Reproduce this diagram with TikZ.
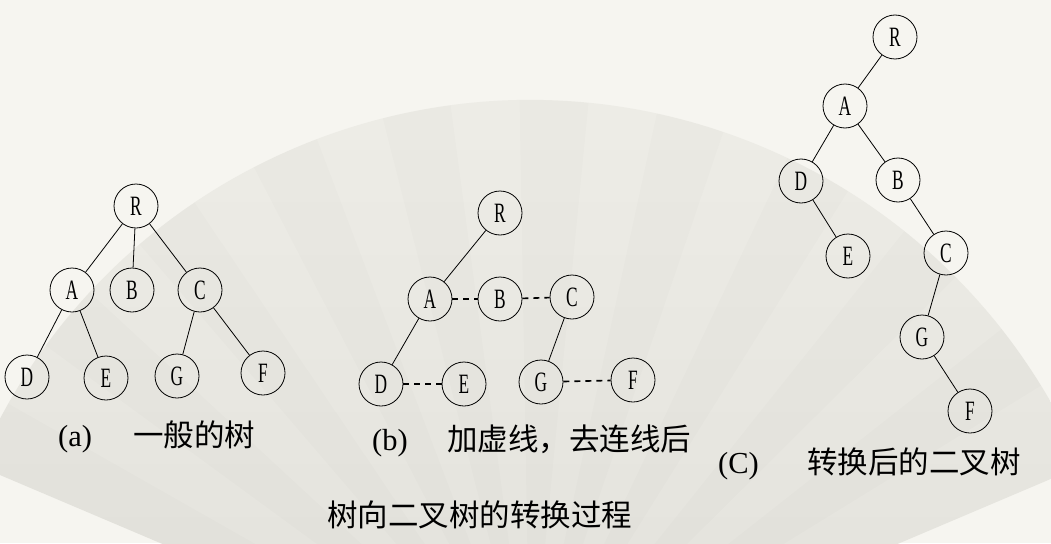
\documentclass[tikz,border=0pt]{standalone}
\usepackage{fontspec}
\setmainfont{Liberation Serif}
\newfontfamily\cjk{Noto Sans CJK SC}
\newcommand\nlet[1]{\scalebox{0.62}[1]{#1}}
\definecolor{bgc}{RGB}{246,245,240}
\definecolor{fantop}{RGB}{239,238,232}
\definecolor{fanbot}{RGB}{226,225,219}
\tikzset{
  tn/.style={circle, draw, line width=0.8pt, minimum size=44pt, inner sep=0pt,
    font=\fontsize{28}{28}\selectfont},
  edge/.style={line width=0.8pt},
  dline/.style={line width=1.6pt, dash pattern=on 6pt off 5pt},
  lab/.style={anchor=west, inner sep=0pt, font=\fontsize{30.5}{30.5}\selectfont}
}
\begin{document}
\begin{tikzpicture}[x=1pt,y=-1pt]
\useasboundingbox (0,0) rectangle (1051,543);
\fill[bgc] (0,0) rectangle (1051,543);
\begin{scope}
\clip (0,0) rectangle (1051,543);
\shade[top color=fantop, bottom color=fanbot] (530,700) -- ++(-157:600) arc[start angle=-157, end angle=-23, radius=600] -- cycle;
\foreach \a in {-157,-143.8,...,-30}{
  \fill[black, opacity=0.012] (530,700) -- ++(\a:600) arc[start angle=\a, end angle=\a+6.6, radius=600] -- cycle;
}
\end{scope}

% tree (a)
\node[tn] (aR) at (136,206) {\nlet{R}};
\node[tn] (aA) at (72,290) {\nlet{A}};
\node[tn] (aB) at (132,290) {\nlet{B}};
\node[tn] (aC) at (200,290) {\nlet{C}};
\node[tn] (aD) at (27,377) {\nlet{D}};
\node[tn] (aE) at (106,378) {\nlet{E}};
\node[tn] (aG) at (177,376) {\nlet{G}};
\node[tn] (aF) at (263,373) {\nlet{F}};
\draw[edge] (aR) -- (aA);
\draw[edge] (aR) -- (aB);
\draw[edge] (aR) -- (aC);
\draw[edge] (aA) -- (aD);
\draw[edge] (aA) -- (aE);
\draw[edge] (aC) -- (aG);
\draw[edge] (aC) -- (aF);
\node[lab] (la) at (58,437) {\makebox[75pt][l]{(a)}{\cjk 一般的树}};

% tree (b)
\node[tn] (bR) at (500,213) {\nlet{R}};
\node[tn] (bA) at (430,299) {\nlet{A}};
\node[tn] (bB) at (500,299) {\nlet{B}};
\node[tn] (bC) at (572,297) {\nlet{C}};
\node[tn] (bD) at (381,384) {\nlet{D}};
\node[tn] (bE) at (464,384) {\nlet{E}};
\node[tn] (bG) at (541,382) {\nlet{G}};
\node[tn] (bF) at (633,380) {\nlet{F}};
\draw[edge] (bR) -- (bA);
\draw[edge] (bA) -- (bD);
\draw[edge] (bC) -- (bG);
\draw[dline] (bA) -- (bB);
\draw[dline] (bB) -- (bC);
\draw[dline] (bD) -- (bE);
\draw[dline] (bG) -- (bF);
\node[lab] (lb) at (372,441) {\makebox[75pt][l]{(b)}{\cjk 加虚线，去连线后}};

% tree (c)
\node[tn] (cR) at (895,37) {\nlet{R}};
\node[tn] (cA) at (845,106) {\nlet{A}};
\node[tn] (cD) at (801,181) {\nlet{D}};
\node[tn] (cB) at (898,180) {\nlet{B}};
\node[tn] (cE) at (848,256) {\nlet{E}};
\node[tn] (cC) at (946,253) {\nlet{C}};
\node[tn] (cG) at (922,337) {\nlet{G}};
\node[tn] (cF) at (970,411) {\nlet{F}};
\draw[edge] (cR) -- (cA);
\draw[edge] (cA) -- (cD);
\draw[edge] (cA) -- (cB);
\draw[edge] (cD) -- (cE);
\draw[edge] (cB) -- (cC);
\draw[edge] (cC) -- (cG);
\draw[edge] (cG) -- (cF);
\node[lab] (lc) at (718,464) {\makebox[89pt][l]{(C)}{\cjk 转换后的二叉树}};

% title
\node[lab] (title) at (327,515) {{\cjk 树向二叉树的转换过程}};
\end{tikzpicture}
\end{document}
